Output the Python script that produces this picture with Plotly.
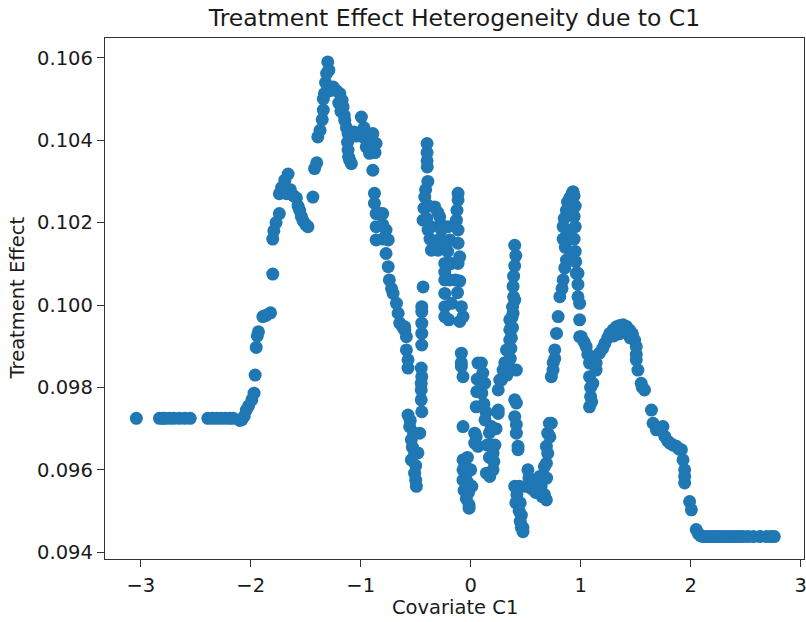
import plotly.graph_objects as go

# ---- data (Covariate C1 vs Treatment Effect) ----
left_flat_x = [-3.04, -2.83, -2.80, -2.78, -2.74, -2.70, -2.65, -2.60, -2.55,
               -2.39, -2.35, -2.31, -2.27, -2.23, -2.19, -2.16]
left_flat_y = [0.09725] * 16

rise_x = [-2.10, -2.08, -2.06, -2.04, -2.02, -1.99, -1.97, -1.96, -1.95, -1.94, -1.93,
          -1.89, -1.86, -1.82, -1.80, -1.80, -1.79, -1.77, -1.74, -1.74, -1.72, -1.69,
          -1.66, -1.675, -1.64, -1.61, -1.585, -1.57, -1.555, -1.54, -1.525, -1.50, -1.48]
rise_y = [0.09720, 0.09722, 0.09730, 0.09745, 0.09755, 0.09770, 0.09786, 0.09830, 0.09897, 0.09925, 0.09935,
          0.09972, 0.09975, 0.09981, 0.10075, 0.10160, 0.10180, 0.10200, 0.10222, 0.10270, 0.10285, 0.10303,
          0.10318, 0.10270, 0.10280, 0.10265, 0.10260, 0.10240, 0.10230, 0.10215, 0.10205, 0.10195, 0.10190]

peak_x = [-1.435, -1.42, -1.40, -1.39, -1.37, -1.35, -1.34, -1.34, -1.33, -1.32, -1.31, -1.30, -1.29, -1.30,
          -1.28, -1.25, -1.22, -1.20, -1.19, -1.18, -1.17, -1.16, -1.15, -1.145, -1.13, -1.115, -1.12,
          -1.115, -1.11, -1.10, -1.085]
peak_y = [0.10262, 0.10331, 0.10345, 0.10408, 0.10424, 0.10450, 0.10473, 0.10500, 0.10513, 0.10540, 0.10562, 0.10590, 0.10570, 0.10530,
          0.10520, 0.10529, 0.10520, 0.10490, 0.10513, 0.10470, 0.10497, 0.10481, 0.10460, 0.10448, 0.10430, 0.10416, 0.10395,
          0.10376, 0.10359, 0.10351, 0.10343]

shoulder_x = [-1.06, -1.04, -1.025, -0.994, -0.98, -0.97, -0.95, -0.92, -0.90, -0.89, -0.86, -0.87,
              -0.89, -0.875, -0.875]
shoulder_y = [0.10420, 0.10410, 0.10416, 0.10456, 0.10408, 0.10430, 0.10384, 0.10368, 0.10395, 0.10416, 0.10392, 0.10370,
              0.10327, 0.10271, 0.10247]

descent_x = [-0.86, -0.83, -0.80, -0.86, -0.80, -0.77, -0.86, -0.80, -0.75, -0.77, -0.75, -0.74, -0.72,
             -0.706, -0.675, -0.66, -0.645, -0.62, -0.60, -0.585, -0.585, -0.57, -0.57, -0.60]
descent_y = [0.10222, 0.10222, 0.10222, 0.10190, 0.10195, 0.10182, 0.10158, 0.10160, 0.10158, 0.10125, 0.10093, 0.10061, 0.10040,
             0.10028, 0.10004, 0.09980, 0.09956, 0.09947, 0.09939, 0.09923, 0.09891, 0.09867, 0.09847, 0.09947]

low_left_x = [-0.57, -0.555, -0.54, -0.52, -0.54, -0.51, -0.51, -0.50, -0.494, -0.50, -0.53, -0.55, -0.464, -0.48]
low_left_y = [0.09733, 0.09705, 0.09673, 0.09690, 0.09624, 0.09640, 0.09592, 0.09610, 0.09560, 0.09575, 0.09655, 0.09720, 0.09689, 0.09641]

col_m045_x = [-0.433, -0.445, -0.445, -0.445, -0.445, -0.445, -0.45, -0.445, -0.45, -0.45, -0.45, -0.445]
col_m045_y = [0.10044, 0.09996, 0.09984, 0.09956, 0.09931, 0.09903, 0.09847, 0.09826, 0.09810, 0.09794, 0.09770, 0.09741]

col_a_x = [-0.397, -0.397, -0.397, -0.395, -0.39, -0.41, -0.418, -0.425, -0.433, -0.40, -0.388, -0.37, -0.357,
           -0.327, -0.30, -0.282, -0.27, -0.266, -0.28, -0.297, -0.34, -0.36, -0.38]
col_a_y = [0.10392, 0.10370, 0.10350, 0.10335, 0.10300, 0.10280, 0.10262, 0.10235, 0.10206, 0.10210, 0.10182, 0.10160, 0.10133,
           0.10238, 0.10225, 0.10214, 0.10195, 0.10182, 0.10160, 0.10133, 0.10150, 0.10190, 0.10240]

col_b_x = [-0.115, -0.115, -0.13, -0.115, -0.115, -0.10, -0.206, -0.19, -0.236, -0.205, -0.175, -0.115,
           -0.236, -0.236, -0.19, -0.14, -0.10, -0.236, -0.236, -0.236, -0.175, -0.085, -0.07, -0.20, -0.10,
           -0.12, -0.21, -0.125, -0.22]
col_b_y = [0.10271, 0.10255, 0.10206, 0.10182, 0.10150, 0.10117, 0.10190, 0.10158, 0.10101, 0.10101, 0.10101, 0.10101,
           0.10080, 0.10061, 0.10061, 0.10061, 0.10058, 0.10028, 0.09996, 0.09972, 0.10004, 0.09996, 0.09972, 0.09964, 0.09960,
           0.10030, 0.10130, 0.10230, 0.10150]

col_zero_x = [-0.085, -0.085, -0.085, -0.07, -0.07,
              -0.07, -0.05, -0.03, -0.07, -0.04, -0.07, -0.03, -0.06, -0.02, -0.04, -0.015, -0.015, 0.00, 0.01, -0.05]
col_zero_y = [0.09883, 0.09860, 0.09851, 0.09826, 0.09705,
              0.09624, 0.09624, 0.09630, 0.09600, 0.09590, 0.09575, 0.09570, 0.09550, 0.09545, 0.09530, 0.09515, 0.09507, 0.09600, 0.09560, 0.09610]

mid_x = [0.066, 0.06, 0.055, 0.05, 0.036, 0.036, 0.066, 0.05,
         0.097, 0.11, 0.127, 0.10, 0.12, 0.14, 0.13, 0.188, 0.17, 0.15, 0.19, 0.203, 0.17, 0.143, 0.173, 0.203,
         0.25, 0.25, 0.23, 0.22, 0.21]
mid_y = [0.09859, 0.09820, 0.09790, 0.09753, 0.09689, 0.09665, 0.09657, 0.09680,
         0.09859, 0.09835, 0.09810, 0.09786, 0.09760, 0.09740, 0.09721, 0.09705, 0.09690, 0.09660, 0.09660, 0.09640, 0.09630, 0.09592, 0.09584, 0.09600,
         0.09745, 0.09737, 0.09700, 0.09660, 0.09620]

climb_x = [0.25, 0.264, 0.28, 0.294, 0.31, 0.325, 0.34, 0.355, 0.355, 0.355, 0.385, 0.40]
climb_y = [0.09794, 0.09818, 0.09818, 0.09842, 0.09860, 0.09891, 0.09891, 0.09915, 0.09940, 0.09964, 0.09980, 0.10012]

col_040_x = [0.40, 0.41, 0.40, 0.39, 0.385, 0.39, 0.38, 0.375, 0.38, 0.37, 0.365, 0.36, 0.35, 0.33,
             0.415, 0.415, 0.40, 0.40, 0.415, 0.415, 0.43, 0.43]
col_040_y = [0.10145, 0.10120, 0.10095, 0.10070, 0.10045, 0.10020, 0.09995, 0.09970, 0.09945, 0.09920, 0.09895, 0.09870, 0.09845, 0.09830,
             0.09842, 0.09762, 0.09770, 0.09729, 0.09710, 0.09689, 0.09657, 0.09649]

bottom_x = [0.40, 0.42, 0.44, 0.41, 0.45, 0.44, 0.46, 0.45, 0.475, 0.475, 0.46,
            0.50, 0.52, 0.53, 0.55, 0.57, 0.59, 0.61, 0.627, 0.64, 0.65, 0.67, 0.688, 0.67, 0.688, 0.688,
            0.70, 0.715, 0.733, 0.72, 0.70, 0.69]
bottom_y = [0.09560, 0.09540, 0.09560, 0.09520, 0.09520, 0.09500, 0.09490, 0.09475, 0.09460, 0.09450, 0.09460,
            0.09560, 0.09600, 0.09580, 0.09555, 0.09570, 0.09545, 0.09560, 0.09584, 0.09560, 0.09535, 0.09540, 0.09527, 0.09608, 0.09616, 0.09657,
            0.09689, 0.09713, 0.09713, 0.09680, 0.09640, 0.09580]

spike_x = [0.733, 0.748, 0.764, 0.764, 0.75, 0.78, 0.795, 0.81, 0.84, 0.83, 0.855, 0.87, 0.86, 0.84, 0.84,
           0.85, 0.87, 0.88, 0.90, 0.92, 0.93, 0.94, 0.95, 0.94, 0.95, 0.94, 0.95, 0.955, 0.96, 0.975,
           0.975, 0.975, 0.99, 0.99, 0.99, 0.90, 0.91]
spike_y = [0.09826, 0.09842, 0.09870, 0.09891, 0.09860, 0.09931, 0.09972, 0.10020, 0.10061, 0.10040, 0.10090, 0.10109, 0.10140, 0.10160, 0.10190,
           0.10210, 0.10230, 0.10250, 0.10260, 0.10270, 0.10275, 0.10265, 0.10240, 0.10215, 0.10190, 0.10160, 0.10130, 0.10105, 0.10077, 0.10077,
           0.10050, 0.10020, 0.10004, 0.09964, 0.09923, 0.10180, 0.10120]

hump_x = [1.006, 1.03, 1.05, 1.065, 1.08, 1.08, 1.09, 1.09, 1.08, 1.10, 1.11, 1.14, 1.14, 1.17, 1.20, 1.22,
          1.245, 1.265, 1.295, 1.325, 1.355, 1.385, 1.415, 1.445, 1.47, 1.49, 1.505, 1.505, 1.505, 1.52,
          1.55, 1.58, 1.56, 1.30, 1.35, 1.40, 1.45]
hump_y = [0.09923, 0.09910, 0.09899, 0.09880, 0.09859, 0.09826, 0.09800, 0.09778, 0.09753, 0.09765, 0.09810, 0.09842, 0.09859, 0.09883, 0.09895, 0.09907,
          0.09920, 0.09931, 0.09940, 0.09947, 0.09950, 0.09952, 0.09948, 0.09939, 0.09930, 0.09915, 0.09899, 0.09880, 0.09867, 0.09842,
          0.09810, 0.09794, 0.09800, 0.09925, 0.09930, 0.09935, 0.09920]

tail_x = [1.643, 1.658, 1.688, 1.72, 1.748, 1.764, 1.79, 1.81, 1.84, 1.87, 1.895, 1.915, 1.93, 1.945, 1.945,
          1.945, 1.99, 2.006, 2.05, 2.07]
tail_y = [0.09745, 0.09713, 0.09697, 0.09700, 0.09705, 0.09681, 0.09670, 0.09665, 0.09660, 0.09657, 0.09650, 0.09649, 0.09624, 0.09600, 0.09584,
          0.09568, 0.09523, 0.09503, 0.09455, 0.09445]

right_flat_x = [2.09, 2.11, 2.14, 2.17, 2.20, 2.23, 2.26, 2.29, 2.32, 2.355, 2.385, 2.415, 2.445, 2.475,
                2.52, 2.57, 2.63, 2.69, 2.73, 2.76]
right_flat_y = [0.09440] + [0.09438] * 19

x_tick_vals = [-3, -2, -1, 0, 1, 2, 3]
x_tick_text = ["\u22123", "\u22122", "\u22121", "0", "1", "2", "3"]
y_tick_vals = [0.094, 0.096, 0.098, 0.100, 0.102, 0.104, 0.106]

segments_x = [left_flat_x, rise_x, peak_x, shoulder_x, descent_x, low_left_x, col_m045_x, col_a_x, col_b_x,
              col_zero_x, mid_x, climb_x, col_040_x, bottom_x, spike_x, hump_x, tail_x, right_flat_x]
segments_y = [left_flat_y, rise_y, peak_y, shoulder_y, descent_y, low_left_y, col_m045_y, col_a_y, col_b_y,
              col_zero_y, mid_y, climb_y, col_040_y, bottom_y, spike_y, hump_y, tail_y, right_flat_y]

xs, ys = [], []
for sx, sy in zip(segments_x, segments_y):
    xs.extend(sx)
    ys.extend(sy)

FONT = "DejaVu Sans"
TXT = "#1a1a1a"
W, H = 806, 622
ML, MR, MT, MB = 105, 2, 38, 63

fig = go.Figure(go.Scatter(
    x=xs, y=ys, mode="markers",
    marker=dict(color="#1f77b4", size=13, line=dict(width=0)),
    hoverinfo="x+y", showlegend=False,
))

axis_common = dict(
    showgrid=False, zeroline=False, showline=True, linecolor="#333333", linewidth=1.3,
    mirror=True, ticks="outside", ticklen=7, tickwidth=1.3, tickcolor="#333333",
    tickfont=dict(family=FONT, size=19.5, color=TXT), automargin=False,
    ticklabeloverflow="allow",
)

fig.update_layout(
    width=W, height=H,
    paper_bgcolor="white", plot_bgcolor="white",
    margin=dict(l=ML, r=MR, t=MT, b=MB, pad=0),
    title=dict(text="Treatment Effect Heterogeneity due to C1", x=0.5, xref="paper",
               y=1 - 18 / H, yref="container", xanchor="center", yanchor="middle",
               automargin=False,
               font=dict(family=FONT, size=23.5, color=TXT)),
    xaxis=dict(range=[-3.325, 3.03], tickvals=x_tick_vals, ticktext=x_tick_text,
               ticklabelstandoff=1, **axis_common),
    yaxis=dict(range=[0.093836, 0.10648], tickvals=y_tick_vals, tickformat=".3f",
               ticklabelstandoff=0, **axis_common),
    annotations=[
        dict(text="Covariate C1", xref="paper", yref="paper", x=0.5, y=0,
             xanchor="center", yanchor="middle", yshift=-(607 - (H - MB)), showarrow=False,
             font=dict(family=FONT, size=19.5, color=TXT)),
        dict(text="Treatment Effect", xref="paper", yref="paper", x=0, y=0.5,
             xanchor="center", yanchor="middle", xshift=17 - ML, textangle=-90, showarrow=False,
             font=dict(family=FONT, size=19.5, color=TXT)),
    ],
)

# remove the default 8px page margin so the figure sits at the window origin
fig.write_html("out.html", config={"displayModeBar": False},
               post_script="document.body.style.margin='0';document.body.style.overflow='hidden';")
